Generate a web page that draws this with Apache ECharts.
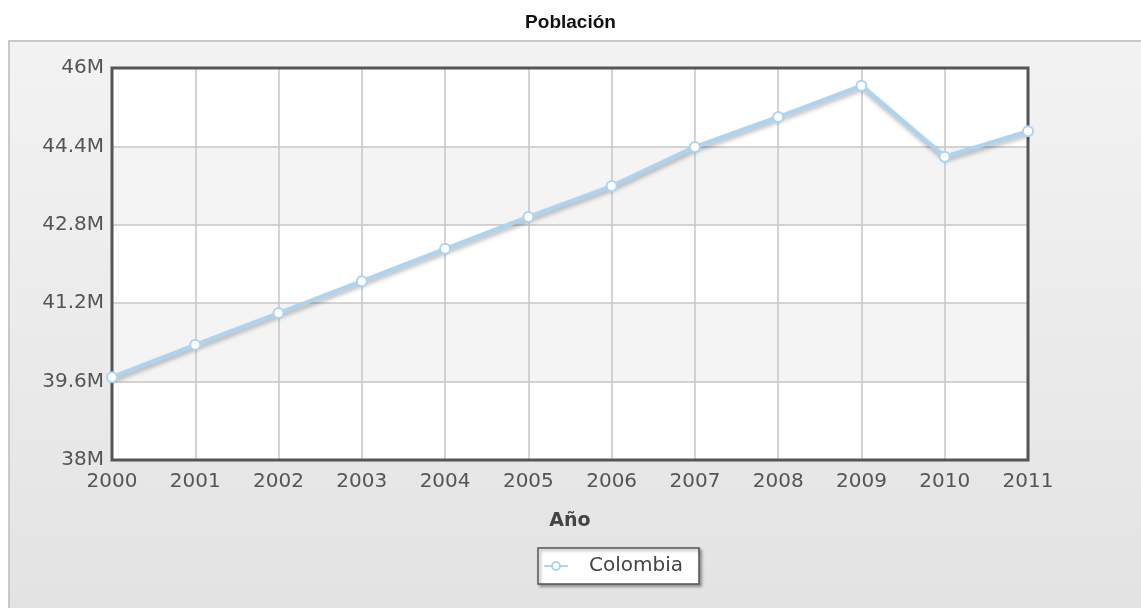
<!DOCTYPE html>
<html>
<head>
<meta charset="utf-8">
<title>Población</title>
<script src="https://cdn.jsdelivr.net/npm/echarts@6/dist/echarts.min.js"></script>
<style>
  html, body { margin: 0; padding: 0; background: #fff; }
  #chart { width: 1141px; height: 608px; }
</style>
</head>
<body>
<div id="chart"></div>
<script>
// años y población (millones)
var years = ['2000', '2001', '2002', '2003', '2004', '2005', '2006', '2007', '2008', '2009', '2010', '2011']
var colombia = [39.69, 40.35, 41.0, 41.65, 42.31, 42.96, 43.59, 44.39, 45.0, 45.64, 44.19, 44.71]
var yMin = 38
var yMax = 46
var yStep = 1.6

var chart = echarts.init(document.getElementById('chart'))

var labelFont = { fontFamily: 'DejaVu Sans', fontSize: 20, color: '#555' }

var option = {
  backgroundColor: '#fff',
  animation: false,
  title: {
    text: 'Población',
    left: 'center',
    top: 8,
    textStyle: { fontFamily: 'Liberation Sans', fontSize: 19, fontWeight: 'bold', color: '#111' }
  },
  graphic: [
    {
      // panel de fondo
      type: 'rect',
      left: 8,
      top: 40,
      z: -10,
      shape: { width: 1140, height: 570 },
      style: {
        fill: new echarts.graphic.LinearGradient(0, 0, 0, 1, [
          { offset: 0, color: '#f3f3f3' },
          { offset: 1, color: '#e3e3e3' }
        ]),
        stroke: '#c9c9c9',
        lineWidth: 2
      }
    }
  ],
  grid: {
    show: true,
    left: 112,
    right: 113,
    top: 68,
    bottom: 148,
    z: 3,
    backgroundColor: 'transparent',
    borderColor: '#555',
    borderWidth: 3
  },
  legend: {
    bottom: 24,
    left: 538,
    data: ['Colombia'],
    itemWidth: 24,
    itemHeight: 10,
    padding: [8, 16, 8, 5],
    backgroundColor: '#fff',
    borderColor: '#555',
    borderWidth: 1.5,
    borderRadius: 0,
    shadowColor: 'rgba(0,0,0,0.35)',
    shadowBlur: 3,
    shadowOffsetX: 2,
    shadowOffsetY: 2,
    textStyle: { fontFamily: 'DejaVu Sans', fontSize: 20, color: '#444', padding: [0, 0, 0, 16] }
  },
  xAxis: {
    type: 'category',
    data: years,
    boundaryGap: false,
    name: 'Año',
    nameLocation: 'middle',
    nameGap: 52,
    nameTextStyle: { fontFamily: 'DejaVu Sans', fontSize: 19, fontWeight: 'bold', color: '#444' },
    axisLine: { show: false },
    axisTick: { show: false },
    axisLabel: Object.assign({ margin: 12 }, labelFont),
    splitLine: { show: true, showMinLine: false, showMaxLine: false, lineStyle: { color: '#c6c6c6', width: 1.5 } }
  },
  yAxis: {
    type: 'value',
    min: yMin,
    max: yMax,
    interval: yStep,
    axisLine: { show: false },
    axisTick: { show: false },
    axisLabel: Object.assign({
      margin: 8,
      formatter: function (v) { return (+v.toFixed(1)) + 'M' }
    }, labelFont),
    splitLine: { show: true, showMinLine: false, showMaxLine: false, lineStyle: { color: '#c6c6c6', width: 1.5 } },
    splitArea: { show: true, areaStyle: { color: ['#ffffff', '#f4f4f4'] } }
  },
  series: [
    {
      name: 'Colombia',
      type: 'line',
      data: colombia,
      z: 5,
      symbol: 'circle',
      symbolSize: 10,
      lineStyle: {
        color: '#aad4f2',
        width: 4,
        shadowColor: 'rgba(0,0,0,0.3)',
        shadowBlur: 4,
        shadowOffsetX: 1,
        shadowOffsetY: 3
      },
      itemStyle: {
        color: '#fff',
        borderColor: '#aad4f2',
        borderWidth: 2
      }
    }
  ]
}

chart.setOption(option)
</script>
</body>
</html>
